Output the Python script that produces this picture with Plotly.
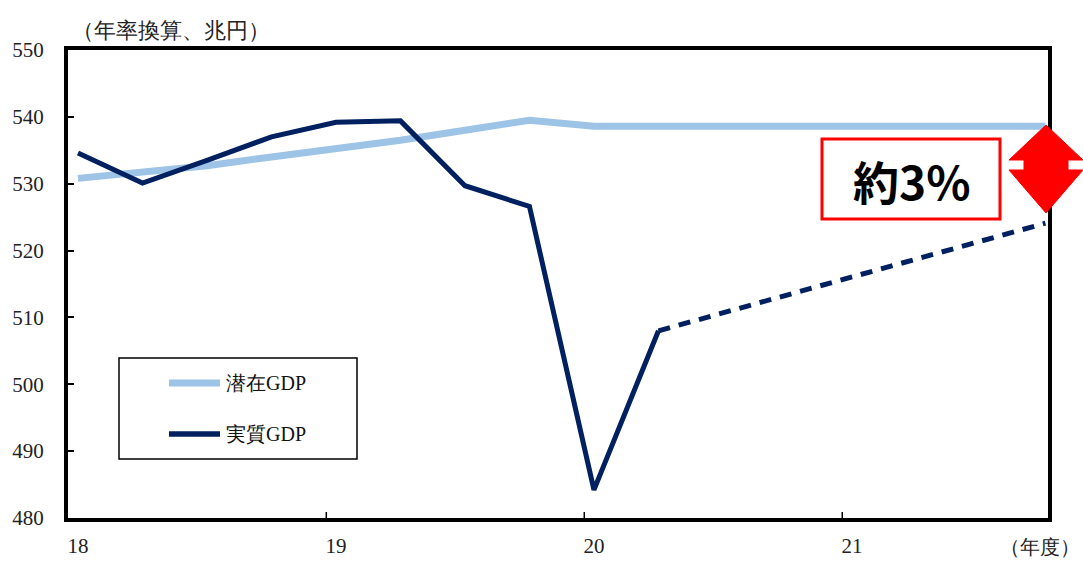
import plotly.graph_objects as go

# ---- data ----
quarters = list(range(16))  # FY2018 Q1 ... FY2021 Q4
potential_gdp = [530.8, 531.7, 532.7, 534.0, 535.2, 536.5, 538.0, 539.5,
                 538.6, 538.6, 538.6, 538.6, 538.6, 538.6, 538.6, 538.6]
real_x = [0, 1, 2, 3, 4, 5, 6, 7, 8, 9]
real_gdp = [534.6, 530.1, 533.5, 537.0, 539.2, 539.4, 529.7, 526.6, 484.2, 508.0]
forecast_x = [9, 15]
forecast_gdp = [508.0, 524.1]
tick_vals = [0, 4, 8, 12]
tick_text = ["18", "19", "20", "21"]
tick_marks = [3.85, 7.85, 11.85]
y_ticks = [480, 490, 500, 510, 520, 530, 540, 550]
series_names = ["潜在GDP", "実質GDP"]

W, H = 1083, 561
L, R, T, B = 68, 1048, 50, 518

def px(x):
    return (x - L) / (R - L)

def py(y):
    return (B - y) / (B - T)

LIGHT = "#9DC3E6"
DARK = "#002060"
SERIF = "Liberation Serif, Times New Roman, serif"

fig = go.Figure()
fig.add_trace(go.Scatter(x=quarters, y=potential_gdp, mode="lines",
                         name=series_names[0],
                         line=dict(color=LIGHT, width=7), showlegend=False))
fig.add_trace(go.Scatter(x=real_x, y=real_gdp, mode="lines",
                         name=series_names[1],
                         line=dict(color=DARK, width=5), showlegend=False))
fig.add_trace(go.Scatter(x=forecast_x, y=forecast_gdp, mode="lines",
                         name=series_names[1] + "（見通し）",
                         line=dict(color=DARK, width=5, dash="12px,9px"),
                         showlegend=False))

shapes = []
annotations = []

# x tick marks (inside, between quarters)
for t in tick_marks:
    shapes.append(dict(type="line", xref="x", yref="paper", x0=t, x1=t,
                       y0=0, y1=6 / (B - T), line=dict(color="black", width=1.5)))

# manual legend
shapes.append(dict(type="rect", xref="paper", yref="paper",
                   x0=px(119), x1=px(357), y0=py(459), y1=py(358),
                   line=dict(color="black", width=1.5), fillcolor="white"))
for i, (name, col, wd, yy) in enumerate([(series_names[0], LIGHT, 7, 383),
                                          (series_names[1], DARK, 5.5, 434)]):
    shapes.append(dict(type="line", xref="paper", yref="paper",
                       x0=px(169), x1=px(220), y0=py(yy), y1=py(yy),
                       line=dict(color=col, width=wd)))
    annotations.append(dict(xref="paper", yref="paper", x=px(224), y=py(yy),
                            text=name, showarrow=False, xanchor="left",
                            yanchor="middle",
                            font=dict(family=SERIF, size=20, color="#111")))

# "約3%" box
shapes.append(dict(type="rect", xref="paper", yref="paper",
                   x0=px(822), x1=px(1000), y0=py(219), y1=py(139),
                   line=dict(color="#FF0000", width=3), fillcolor="white"))
annotations.append(dict(xref="paper", yref="paper", x=px(911), y=py(180),
                        text="<b>約3%</b>", showarrow=False,
                        xanchor="center", yanchor="middle",
                        font=dict(family="Noto Sans CJK JP", size=46, color="black")))

# red double arrow
cx = 1046
hw, sw = 37, 22
top, tb, bb, bot = 125, 160, 170, 213
pts = [(cx, top), (cx + hw, tb), (cx + sw, tb), (cx + sw, bb), (cx + hw, bb),
       (cx, bot), (cx - hw, bb), (cx - sw, bb), (cx - sw, tb), (cx - hw, tb)]
path = "M " + " L ".join(f"{px(a):.5f},{py(b):.5f}" for a, b in pts) + " Z"
shapes.append(dict(type="path", xref="paper", yref="paper", path=path,
                   fillcolor="#FF0000", line=dict(color="#FF0000", width=1)))

# axis titles
annotations.append(dict(xref="paper", yref="paper", x=px(70), y=py(31),
                        text="（年率換算、兆円）", showarrow=False,
                        xanchor="left", yanchor="middle",
                        font=dict(family=SERIF, size=22, color="#222")))
annotations.append(dict(xref="paper", yref="paper", x=px(1082), y=py(547),
                        text="（年度）", showarrow=False,
                        xanchor="right", yanchor="middle",
                        font=dict(family=SERIF, size=20, color="#222")))

fig.update_layout(
    width=W, height=H,
    margin=dict(l=L, r=W - R, t=T, b=H - B, pad=0, autoexpand=False),
    plot_bgcolor="white", paper_bgcolor="white",
    shapes=shapes, annotations=annotations,
    showlegend=False,
    xaxis=dict(range=[-0.155, 15.04], tickvals=tick_vals, ticktext=tick_text,
               showgrid=False, zeroline=False, showline=True, linecolor="black",
               linewidth=4, mirror=True, ticks="", ticklabelstandoff=6,
               automargin=False,
               tickfont=dict(family=SERIF, size=21, color="#222")),
    yaxis=dict(range=[480, 550], tickvals=y_ticks, showgrid=False,
               zeroline=False, showline=True, linecolor="black", linewidth=4,
               mirror=True, ticks="inside", ticklen=6, tickwidth=1.5,
               tickcolor="black", ticklabelstandoff=16, automargin=False,
               tickfont=dict(family=SERIF, size=21, color="#222")),
)

fig.write_html("out.html")
